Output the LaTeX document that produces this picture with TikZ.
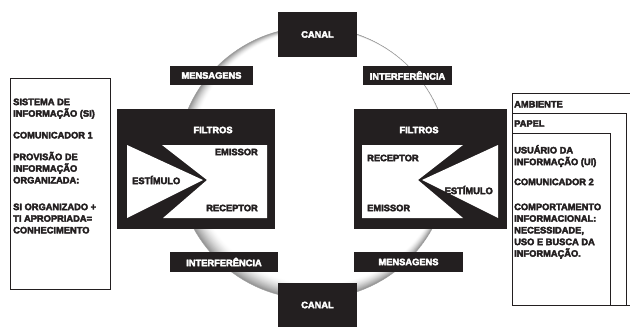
\documentclass[tikz,border=0pt]{standalone}
\usepackage{fontspec}
\setmainfont[BoldFeatures={FakeBold=4}]{Liberation Sans}
\definecolor{ink}{HTML}{231F20}
\begin{document}
\begin{tikzpicture}[x=1pt,y=-1pt,
  txt/.style={font=\fontsize{9.3}{11.7}\selectfont\bfseries, text=ink, inner sep=0pt},
  wtxt/.style={font=\fontsize{9.3}{11.7}\selectfont\bfseries, text=white, inner sep=0pt},
  blk/.style={fill=ink, draw=none, inner sep=0pt, font=\fontsize{9.3}{11.7}\selectfont\bfseries, text=white},
  frame/.style={draw=ink, line width=0.8pt}]
\useasboundingbox (0,0) rectangle (630,332);
% shaded ring
\begin{scope}
\clip (313,163) circle[radius=136pt];
\fill[gray!85!white] (313,163) circle[radius=136pt];
\foreach \i in {1,...,24}{
  \pgfmathsetmacro\pc{85*(1-\i/24)^1.5}
  \fill[gray!\pc!white] (313+\i*0.2357, 163-\i*0.2357) circle[radius={(136-\i*0.375)*1pt}];
}
\end{scope}
\draw[gray!75, line width=0.5pt] (313,163) circle[radius=136pt];
% label boxes
\node[blk, minimum width=79pt, minimum height=45pt] (canalT) at (317.5,34.5) {CANAL};
\node[blk, minimum width=79pt, minimum height=44pt] (canalB) at (317.5,305) {CANAL};
\node[blk, minimum width=83pt, minimum height=19pt] (mensT) at (211.5,75.5) {MENSAGENS};
\node[blk, minimum width=89pt, minimum height=19pt] (interT) at (407.5,75.5) {INTERFERÊNCIA};
\node[blk, minimum width=108pt, minimum height=20pt] (interB) at (224,262) {INTERFERÊNCIA};
\node[blk, minimum width=109pt, minimum height=20pt] (mensB) at (408.5,262) {MENSAGENS};
% left filter
\node[fill=ink, minimum width=158pt, minimum height=120pt, inner sep=0pt] (filtL) at (196,169) {};
\fill[white] (162,145) -- (267,145) -- (267,218) -- (163,218) -- (207,180) -- cycle;
\fill[white] (127,145) -- (203,180) -- (127,218) -- cycle;
\node[wtxt] (fL) at (213,130) {FILTROS};
\node[txt, anchor=east] (emL) at (258,152) {EMISSOR};
\node[txt, anchor=west] (esL) at (132,180) {ESTÍMULO};
\node[txt, anchor=east] (reL) at (258,208) {RECEPTOR};
% right filter
\node[fill=ink, minimum width=153pt, minimum height=120pt, inner sep=0pt] (filtR) at (430.5,169) {};
\fill[white] (362,145) -- (463,145) -- (418,180) -- (463,218) -- (362,218) -- cycle;
\fill[white] (498,145) -- (498,218) -- (422,180) -- cycle;
\node[wtxt] (fR) at (419,130) {FILTROS};
\node[txt, anchor=west] (reR) at (367,158) {RECEPTOR};
\node[txt, anchor=east] (esR) at (493,190) {ESTÍMULO};
\node[txt, anchor=west] (emR) at (367,208) {EMISSOR};
% left text box
\draw[frame] (10,78) rectangle (110,289);
\foreach \t/\y [count=\i] in {SISTEMA DE/105.1, INFORMAÇÃO (SI)/116.7, COMUNICADOR 1/138.4,
  PROVISÃO DE/160.1, INFORMAÇÃO/171.7, ORGANIZADA:/183.4, SI ORGANIZADO +/210.1,
  TI APROPRIADA=/221.7, CONHECIMENTO/233.4}
  \node[txt, anchor=base west] (L\i) at (13,\y) {\t};
% right nested boxes
\draw[frame] (632,93) -- (512,93) -- (512,305) -- (632,305);
\draw[frame] (512,113) -- (626,113) -- (626,305);
\draw[frame] (512,133) -- (610,133) -- (610,305);
\foreach \t/\y [count=\i] in {AMBIENTE/107.4, PAPEL/126.7, USUÁRIO DA/153.4, INFORMAÇÃO (UI)/165.1,
  COMUNICADOR 2/185.1, COMPORTAMENTO/210.1, INFORMACIONAL:/221.7, {NECESSIDADE,}/233.4,
  USO E BUSCA DA/245.1, INFORMAÇÃO./256.7}
  \node[txt, anchor=base west] (R\i) at (514,\y) {\t};
\end{tikzpicture}
\end{document}
